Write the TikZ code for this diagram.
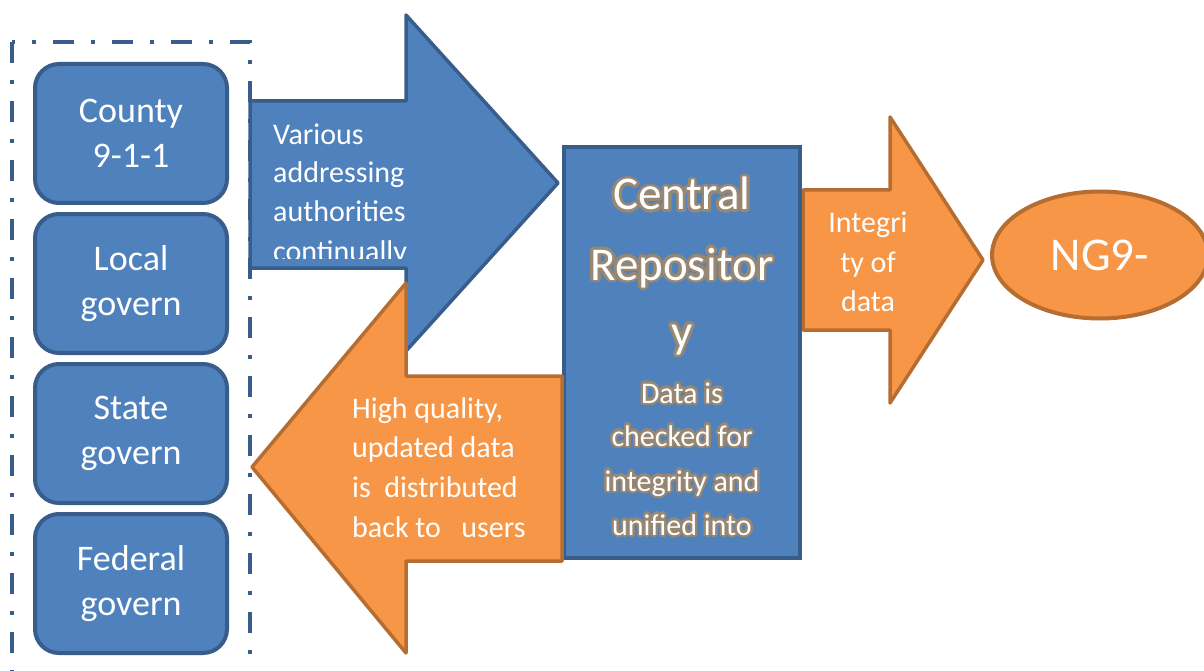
\documentclass[tikz,border=0pt]{standalone}
\usepackage{fontspec}
\setmainfont{Carlito}
\usepackage{contour}
\contourlength{2.2pt}
\contournumber{24}
\usetikzlibrary{shapes.geometric}
\definecolor{bfill}{HTML}{4F81BD}
\definecolor{bline}{HTML}{385D8A}
\definecolor{ofill}{HTML}{F79646}
\definecolor{oline}{HTML}{B66D31}
\definecolor{glowc}{RGB}{152,135,114}
\tikzset{
  ubox/.style={draw=bline, fill=bfill, line width=4pt, rounded corners=24pt,
    minimum width=192pt, minimum height=139pt, inner sep=0pt, text=white,
    align=center, font=\fontsize{36}{45}\selectfont},
  barrow/.style={draw=bline, fill=bfill, line width=3.5pt, line join=round},
  oarrow/.style={draw=oline, fill=ofill, line width=3.5pt, line join=round},
  txt/.style={text=white, inner sep=0pt, anchor=base, font=\fontsize{30}{39}\selectfont},
  txtw/.style={txt, anchor=base west},
  bigtxt/.style={text=white, inner sep=0pt, anchor=base, font=\fontsize{47}{60}\selectfont},
  container/.style={draw=bline, line width=4.5pt, dash pattern=on 21pt off 17pt on 4pt off 17pt}
}
\begin{document}
\begin{tikzpicture}[x=1pt,y=-1pt]
\useasboundingbox (0,0) rectangle (1204,671);
\clip (0,0) rectangle (1204,671);
% container
\draw[container] (12,42) rectangle (250,720);
% user boxes
\node[ubox] (county) at (131,133.5) {County\\9-1-1};
\node[ubox] (local) at (131,283.5) {Local\\govern};
\node[ubox] (state) at (131,433.5) {State\\govern};
\node[ubox] (federal) at (131,583.5) {Federal\\govern};
% blue arrow
\draw[barrow] (250,101) -- (406,101) -- (406,15) -- (558,183) -- (406,351) -- (406,268) -- (250,268) -- cycle;
\begin{scope}
\clip (255,103) rectangle (560,258);
\node[txtw] (v1) at (273,145) {Various};
\node[txtw] (v2) at (273,183) {addressing};
\node[txtw] (v3) at (273,222) {authorities};
\node[txtw] (v4) at (273,261) {continually};
\end{scope}
% orange right arrow
\draw[oarrow] (803,190) -- (890,190) -- (890,117) -- (983,260) -- (890,403) -- (890,330) -- (803,330) -- cycle;
\node[txt] (i1) at (868,233) {Integri};
\node[txt] (i2) at (868,272) {ty of};
\node[txt] (i3) at (868,311) {data};
% central repository
\node[draw=bline, fill=bfill, line width=4pt, minimum width=236pt, minimum height=411pt, inner sep=0pt] (repo) at (682,352.5) {};
\contourlength{2.8pt}
\node[bigtxt] (r1) at (682,210) {\contour{glowc}{Central}};
\node[bigtxt] (r2) at (682,280) {\contour{glowc}{Repositor}};
\node[bigtxt] (r3) at (682,347) {\contour{glowc}{y}};
\contourlength{2.2pt}
\node[txt] (d1) at (682,403) {\contour{glowc}{Data is}};
\node[txt] (d2) at (682,446) {\contour{glowc}{checked for}};
\node[txt] (d3) at (682,491) {\contour{glowc}{integrity and}};
\node[txt] (d4) at (682,535) {\contour{glowc}{unified into}};
% orange left arrow
\draw[oarrow] (562,376) -- (406,376) -- (406,283) -- (252,467) -- (406,653) -- (406,561) -- (562,561) -- cycle;
\node[txtw] (h1) at (352,418) {High quality,};
\node[txtw] (h2) at (352,457) {updated data};
\node[txtw] (h3) at (352,497) {is\ \ distributed};
\node[txtw] (h4) at (352,537) {back to\ \ \ users};
% NG9 ellipse
\node[ellipse, draw=oline, fill=ofill, line width=4pt, minimum width=216pt, minimum height=127pt, inner sep=0pt, text=white, font=\fontsize{47}{55}\selectfont] (ng) at (1100,255) {NG9-};
\end{tikzpicture}
\end{document}
